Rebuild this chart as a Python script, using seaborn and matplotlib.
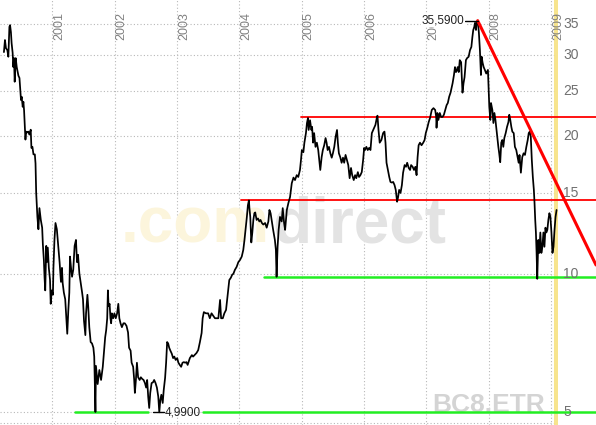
import matplotlib
matplotlib.use("Agg")
import numpy as np
import pandas as pd
import matplotlib.pyplot as plt
import matplotlib.transforms as mtransforms
import seaborn as sns

dates = [
    "2000-03-24", "2000-03-30", "2000-04-05", "2000-04-13", "2000-04-19", "2000-04-25", "2000-04-29",
    "2000-05-04", "2000-05-08", "2000-05-14", "2000-05-18", "2000-05-22", "2000-05-26", "2000-06-01",
    "2000-06-07", "2000-06-17", "2000-06-23", "2000-06-27", "2000-07-02", "2000-07-06", "2000-07-12",
    "2000-07-16", "2000-07-20", "2000-07-24", "2000-07-28", "2000-08-01", "2000-08-05", "2000-08-14",
    "2000-08-20", "2000-08-28", "2000-09-01", "2000-09-07", "2000-09-13", "2000-09-21", "2000-09-25",
    "2000-09-29", "2000-10-06", "2000-10-12", "2000-10-18", "2000-10-26", "2000-11-03", "2000-11-07",
    "2000-11-13", "2000-11-17", "2000-11-21", "2000-11-27", "2000-11-30", "2000-12-06", "2000-12-12",
    "2000-12-19", "2000-12-23", "2000-12-29",
    "2001-01-05", "2001-01-08", "2001-01-14", "2001-01-20", "2001-01-28", "2001-02-05", "2001-02-13",
    "2001-02-21", "2001-02-27", "2001-03-03", "2001-03-10", "2001-03-18", "2001-03-24", "2001-03-30",
    "2001-04-05", "2001-04-11", "2001-04-15", "2001-04-21", "2001-04-27", "2001-05-04", "2001-05-12",
    "2001-05-20", "2001-05-26", "2001-06-01", "2001-06-09", "2001-06-17", "2001-06-25", "2001-06-30",
    "2001-07-06", "2001-07-14", "2001-07-18", "2001-07-26", "2001-07-31", "2001-08-06", "2001-08-14",
    "2001-08-22", "2001-08-30", "2001-09-04", "2001-09-11", "2001-09-14", "2001-09-24", "2001-10-04",
    "2001-10-14", "2001-10-24", "2001-11-01", "2001-11-07", "2001-11-13", "2001-11-19", "2001-11-23",
    "2001-11-27", "2001-12-03", "2001-12-08", "2001-12-12", "2001-12-16", "2001-12-24", "2001-12-31",
    "2002-01-08", "2002-01-16", "2002-01-23", "2002-01-29", "2002-02-05", "2002-02-13", "2002-02-22",
    "2002-03-02", "2002-03-12", "2002-03-21", "2002-03-27", "2002-04-05", "2002-04-11", "2002-04-20",
    "2002-04-26", "2002-04-30", "2002-05-06", "2002-05-12", "2002-05-19", "2002-05-28", "2002-06-04",
    "2002-06-12", "2002-06-20", "2002-06-28", "2002-07-05", "2002-07-11", "2002-07-17", "2002-07-23",
    "2002-07-29", "2002-08-06", "2002-08-14", "2002-08-21", "2002-08-29", "2002-09-06", "2002-09-14",
    "2002-09-20", "2002-09-26", "2002-10-02", "2002-10-10", "2002-10-16", "2002-10-24", "2002-10-30",
    "2002-11-05", "2002-11-11", "2002-11-17", "2002-11-24", "2002-12-02", "2002-12-10", "2002-12-17",
    "2002-12-25",
    "2003-01-03", "2003-01-10", "2003-01-18", "2003-01-26", "2003-02-03", "2003-02-11", "2003-02-19",
    "2003-02-26", "2003-03-05", "2003-03-18", "2003-03-30", "2003-04-06", "2003-04-26", "2003-05-06",
    "2003-05-16", "2003-05-26", "2003-06-01", "2003-06-08", "2003-06-20", "2003-07-03", "2003-07-13",
    "2003-07-23", "2003-08-02", "2003-08-12", "2003-08-22", "2003-09-01", "2003-09-11", "2003-09-17",
    "2003-09-27", "2003-10-06", "2003-10-16", "2003-10-24", "2003-10-30", "2003-11-04", "2003-11-13",
    "2003-11-21", "2003-11-28", "2003-12-07", "2003-12-17", "2003-12-27",
    "2004-01-06", "2004-01-16", "2004-01-25", "2004-02-01", "2004-02-07", "2004-02-15", "2004-02-21",
    "2004-02-27", "2004-03-01", "2004-03-06", "2004-03-12", "2004-03-18", "2004-03-24", "2004-03-30",
    "2004-04-04", "2004-04-12", "2004-04-20", "2004-04-28", "2004-05-05", "2004-05-13", "2004-05-21",
    "2004-06-01", "2004-06-10", "2004-06-20", "2004-06-26", "2004-07-03", "2004-07-09", "2004-07-18",
    "2004-07-28", "2004-08-03", "2004-08-07", "2004-08-13", "2004-08-19", "2004-08-27", "2004-09-06",
    "2004-09-12", "2004-09-20", "2004-09-26", "2004-10-06", "2004-10-15", "2004-10-25", "2004-11-04",
    "2004-11-14", "2004-11-23", "2004-12-03", "2004-12-12", "2004-12-22", "2004-12-28",
    "2005-01-02", "2005-01-11", "2005-01-17", "2005-01-26", "2005-02-01", "2005-02-07", "2005-02-11",
    "2005-02-19", "2005-02-27", "2005-03-03", "2005-03-09", "2005-03-15", "2005-03-23", "2005-03-31",
    "2005-04-08", "2005-04-14", "2005-04-20", "2005-04-28", "2005-05-05", "2005-05-13", "2005-05-21",
    "2005-05-27", "2005-06-02", "2005-06-10", "2005-06-18", "2005-06-26", "2005-07-03", "2005-07-11",
    "2005-07-19", "2005-07-27", "2005-08-01", "2005-08-07", "2005-08-15", "2005-08-23", "2005-08-31",
    "2005-09-07", "2005-09-15", "2005-09-23", "2005-10-01", "2005-10-09", "2005-10-17", "2005-10-24",
    "2005-11-02", "2005-11-10", "2005-11-17", "2005-11-26", "2005-12-03", "2005-12-11", "2005-12-19",
    "2005-12-27",
    "2006-01-02", "2006-01-07", "2006-01-15", "2006-01-23", "2006-01-31", "2006-02-08", "2006-02-16",
    "2006-02-24", "2006-03-01", "2006-03-09", "2006-03-17", "2006-03-21", "2006-03-27", "2006-04-03",
    "2006-04-13", "2006-04-23", "2006-05-01", "2006-05-07", "2006-05-13", "2006-05-21", "2006-05-29",
    "2006-06-05", "2006-06-13", "2006-06-21", "2006-06-29", "2006-07-06", "2006-07-14", "2006-07-20",
    "2006-07-26", "2006-08-03", "2006-08-11", "2006-08-18", "2006-08-27", "2006-09-04", "2006-09-11",
    "2006-09-20", "2006-09-28", "2006-10-04", "2006-10-13", "2006-10-21", "2006-10-29", "2006-11-05",
    "2006-11-11", "2006-11-17", "2006-11-25", "2006-12-04", "2006-12-14", "2006-12-22", "2006-12-29",
    "2007-01-07", "2007-01-15", "2007-01-23", "2007-02-02", "2007-02-12", "2007-02-22", "2007-02-28",
    "2007-03-02", "2007-03-07", "2007-03-13", "2007-03-21", "2007-03-29", "2007-04-06", "2007-04-14",
    "2007-04-22", "2007-04-30", "2007-05-07", "2007-05-15", "2007-05-23", "2007-05-29", "2007-06-04",
    "2007-06-12", "2007-06-18", "2007-06-24", "2007-06-30", "2007-07-04", "2007-07-10", "2007-07-16",
    "2007-07-24", "2007-08-01", "2007-08-07", "2007-08-13", "2007-08-21", "2007-08-28", "2007-09-06",
    "2007-09-14", "2007-09-22", "2007-09-28", "2007-10-03", "2007-10-09", "2007-10-13", "2007-10-19",
    "2007-10-23", "2007-10-29", "2007-11-01", "2007-11-05", "2007-11-11", "2007-11-17", "2007-11-21",
    "2007-11-27", "2007-12-03", "2007-12-10", "2007-12-18", "2007-12-28",
    "2008-01-03", "2008-01-05", "2008-01-11", "2008-01-15", "2008-01-23", "2008-01-29", "2008-02-04",
    "2008-02-10", "2008-02-18", "2008-02-27", "2008-03-03", "2008-03-09", "2008-03-15", "2008-03-21",
    "2008-03-27", "2008-04-02", "2008-04-10", "2008-04-18", "2008-04-26", "2008-05-01", "2008-05-07",
    "2008-05-13", "2008-05-19", "2008-05-27", "2008-06-03", "2008-06-11", "2008-06-19", "2008-06-25",
    "2008-06-30", "2008-07-08", "2008-07-16", "2008-07-24", "2008-08-01", "2008-08-09", "2008-08-17",
    "2008-08-23", "2008-08-29", "2008-09-04", "2008-09-10", "2008-09-16", "2008-09-22", "2008-09-26",
    "2008-09-30", "2008-10-04", "2008-10-08", "2008-10-12", "2008-10-18", "2008-10-24", "2008-10-30",
    "2008-11-05", "2008-11-11", "2008-11-17", "2008-11-23", "2008-11-29", "2008-12-04", "2008-12-10",
    "2008-12-16", "2008-12-22", "2008-12-28",
    "2009-01-03", "2009-01-09", "2009-01-15", "2009-01-21", "2009-01-27", "2009-02-02",
]
prices = [
    30.4, 32.3, 31.0, 30.7, 29.7, 34.5, 34.8,
    33.6, 31.8, 30.3, 28.2, 29.5, 26.2, 29.5,
    28.2, 27.0, 26.7, 25.5, 23.9, 24.3, 23.1,
    23.7, 22.7, 21.1, 19.6, 20.4, 20.3, 20.4,
    20.1, 20.6, 18.8, 18.9, 18.2, 18.2, 17.4,
    15.0, 13.3, 12.5, 13.9, 13.1, 12.6, 11.6,
    10.7, 9.8, 9.2, 11.5, 10.6, 11.4, 10.3,
    9.7, 8.6, 9.2,
    9.0, 10.3, 11.85, 12.9, 12.5, 11.5, 10.6,
    9.6, 10.3, 9.55, 9.1, 8.8, 8.05, 7.4,
    8.3, 9.1, 10.9, 10.3, 9.85, 10.2, 11.5,
    11.85, 10.6, 11.0, 10.0, 9.55, 9.1, 8.8,
    7.9, 7.35, 8.2, 9.0, 8.45, 7.65, 7.1,
    7.05, 6.9, 6.6, 5.0, 6.3, 5.75, 6.17,
    5.87, 6.27, 6.82, 7.27, 7.54, 8.0, 9.2,
    8.5, 8.6, 8.0, 7.8, 8.2, 8.0, 8.2,
    8.0, 8.2, 8.6, 8.0, 7.8, 7.65, 7.8,
    7.8, 7.7, 7.45, 6.9, 6.8, 6.4, 6.27,
    5.87, 5.5, 5.87, 6.4, 5.95, 5.87, 5.95,
    5.9, 5.87, 5.78, 5.65, 5.87, 5.4, 5.1,
    5.5, 5.78, 5.8, 5.87, 5.78, 5.65, 5.4,
    4.99, 5.31, 5.45, 5.23, 5.58, 5.93, 6.4,
    7.1, 7.05, 6.9, 6.8, 6.7, 6.55, 6.6,
    6.49,
    6.55, 6.4, 6.33, 6.27, 6.4, 6.42, 6.4,
    6.42, 6.33, 6.55, 6.65, 6.6, 6.72, 6.82,
    7.1, 7.43, 8.0, 8.25, 8.2, 8.2, 8.0,
    8.2, 8.1, 8.0, 8.0, 8.0, 8.77, 8.0,
    8.0, 8.2, 8.34, 8.9, 9.35, 9.69, 9.8,
    9.95, 10.0, 10.2, 10.35, 10.6,
    10.72, 10.9, 11.27, 11.85, 12.46, 13.3, 14.1,
    14.45, 13.9, 13.3, 11.7, 12.3, 13.1, 13.55,
    13.6, 13.1, 13.2, 13.0, 13.1, 12.9, 12.8,
    12.9, 12.6, 13.0, 13.77, 13.55, 13.1, 12.46,
    11.85, 11.27, 9.85, 11.45, 12.46, 13.3, 13.0,
    13.9, 12.9, 12.46, 13.77, 14.25, 14.7, 15.75,
    16.2, 16.0, 16.4, 16.25, 16.83, 17.7,
    18.6, 18.4, 19.3, 20.25, 21.3, 21.85, 20.57,
    21.6, 20.57, 20.9, 19.3, 20.25, 18.9, 19.3,
    18.6, 17.7, 16.83, 17.95, 18.6, 19.05, 19.75,
    19.3, 18.6, 18.9, 18.3, 17.9, 18.3, 18.9,
    19.9, 20.57, 19.3, 18.3, 17.95, 17.45, 17.9,
    17.45, 18.15, 17.7, 17.25, 16.15, 17.0, 16.4,
    16.0, 16.4, 16.15, 16.65, 16.25, 16.4, 16.65,
    17.7,
    18.8, 18.6, 18.9, 18.6, 18.8, 18.6, 20.25,
    20.57, 20.8, 21.1, 21.85, 22.1, 20.57, 19.3,
    19.56, 20.25, 20.4, 19.3, 17.45, 16.83, 16.25,
    15.85, 15.8, 15.85, 15.6, 15.23, 14.35, 14.7,
    15.23, 15.0, 15.6, 16.6, 17.25, 17.1, 17.45,
    17.0, 16.83, 17.25, 17.1, 16.83, 17.1, 16.4,
    17.95, 19.05, 19.3, 19.05, 19.3, 19.56, 20.25,
    20.8, 21.4, 21.85, 22.74, 22.95, 22.74, 21.96,
    20.8, 22.4, 21.63, 22.4, 21.96, 21.96, 22.2,
    22.74, 23.3, 23.55, 24.3, 24.8, 25.4, 26.0,
    27.1, 28.2, 27.5, 27.8, 28.2, 27.5, 29.2,
    28.9, 24.8, 26.0, 26.8, 29.2, 29.5, 29.7,
    30.7, 31.2, 32.8, 33.96, 34.5, 35.2, 33.96,
    35.35, 35.59, 34.8, 33.5, 30.7, 27.1, 29.7,
    28.8, 28.2, 27.8, 27.3, 27.8,
    24.2, 23.1, 21.63, 23.55, 22.74, 21.3, 22.4,
    21.63, 20.25, 18.9, 18.3, 17.5, 19.3, 19.56,
    18.9, 19.75, 20.25, 20.9, 21.4, 22.2, 21.63,
    20.9, 20.4, 20.25, 18.9, 18.6, 17.95, 17.45,
    18.15, 16.6, 17.95, 18.3, 18.15, 18.9, 19.56,
    20.25, 20.4, 19.9, 17.7, 16.25, 15.23, 14.25,
    13.1, 12.3, 11.1, 9.75, 11.85, 11.1, 12.3,
    11.1, 11.45, 12.3, 11.45, 12.6, 12.3, 12.46,
    13.1, 13.55, 13.3,
    12.3, 11.1, 11.45, 12.46, 13.3, 13.77,
]

# Hilfslinien / Marken
y_ticks = [5, 10, 15, 20, 25, 30, 35]
years = list(range(2001, 2010))
trend_dates = ["2007-10-29", "2009-09-21"]
trend_prices = [35.59, 10.45]
resist_hi = (22.0, "2004-12-29")
resist_lo = (14.5, "2004-01-14")
support_hi = (9.85, "2004-05-26")
support_lo = (4.99, "2001-05-14")
peak = ("2007-10-29", 35.59)
low = ("2002-09-20", 4.99)

x_left, x_right = pd.Timestamp("2000-03-01"), pd.Timestamp("2009-09-21")
y_bot, y_top = 4.683, 39.48

sns.set_style("white")
plt.rcParams["font.family"] = ["Liberation Sans", "DejaVu Sans"]

df = pd.DataFrame({"date": pd.to_datetime(dates), "price": prices})

fig = plt.figure(figsize=(5.96, 4.25), dpi=100)
ax = fig.add_axes([0, 0, 1, 1])
ax.set_yscale("log")
ax.set_xlim(x_left, x_right)
ax.set_ylim(y_bot, y_top)
for s in ax.spines.values():
    s.set_visible(False)
ax.set_xticks([])
ax.set_yticks([])
ax.minorticks_off()

grid_kw = dict(color="#b8b8b8", lw=0.8, ls=(0, (1, 2)), zorder=0)
grid_end = pd.Timestamp("2009-01-17")
for v in y_ticks + [4.73]:
    ax.plot([x_left, grid_end], [v, v], **grid_kw)
for yr in years:
    ax.axvline(pd.Timestamp(f"{yr}-01-01"), **grid_kw)

# gelber Balken (aktueller Rand)
ax.axvspan(pd.Timestamp("2009-01-19"), pd.Timestamp("2009-02-10"), color="#f6e07a", alpha=0.85, lw=0, zorder=0.5)

# Wasserzeichen
ax.text(0.452, 0.43, ".com", transform=ax.transAxes, ha="right", va="baseline",
        fontsize=46, fontweight="bold", color="#fcf5dc", zorder=0.6)
ax.text(0.457, 0.43, "direct", transform=ax.transAxes, ha="left", va="baseline",
        fontsize=46, fontweight="bold", color="#e3e3e3", zorder=0.6)
ax.text(0.915, 0.031, "BC8.ETR", transform=ax.transAxes, ha="right", va="baseline",
        fontsize=19, fontweight="bold", color="#d4d4d4", zorder=0.6)

sns.lineplot(data=df, x="date", y="price", ax=ax, color="black", lw=1.25, zorder=3)
ax.set_xlabel("")
ax.set_ylabel("")

# Widerstands- / Unterstuetzungslinien
ax.plot([pd.Timestamp(resist_hi[1]), x_right], [resist_hi[0]] * 2, color="#ff0000", lw=1.3, zorder=2)
ax.plot([pd.Timestamp(resist_lo[1]), x_right], [resist_lo[0]] * 2, color="#ff0000", lw=1.3, zorder=2)
ax.plot([pd.Timestamp(support_hi[1]), x_right], [support_hi[0]] * 2, color="#22ee22", lw=1.8, zorder=2)
ax.plot([pd.Timestamp(support_lo[1]), pd.Timestamp("2002-07-15")], [support_lo[0]] * 2, color="#22ee22", lw=1.8, zorder=2)
ax.plot([pd.Timestamp("2003-06-03"), x_right], [support_lo[0]] * 2, color="#22ee22", lw=1.8, zorder=2)
ax.plot(pd.to_datetime(trend_dates), trend_prices, color="#ff0000", lw=2.2, zorder=4)

# Achsenbeschriftungen
lab_trans = mtransforms.blended_transform_factory(ax.transAxes, ax.transData)
for v in y_ticks:
    ax.text(563 / 596, v, str(v), transform=lab_trans, ha="left", va="center",
            fontsize=10, color="#707070", zorder=5)
yr_trans = mtransforms.blended_transform_factory(ax.transData, ax.transAxes)
for yr in years:
    ax.text(pd.Timestamp(f"{yr}-01-07"), 1 - 12 / 425, str(yr), transform=yr_trans,
            rotation=90, ha="left", va="top", fontsize=9, color="#808080", zorder=5)

# Hoch / Tief
ax.plot([pd.Timestamp("2007-08-14"), pd.Timestamp(peak[0])], [peak[1]] * 2, color="black", lw=1, zorder=6)
ax.text(pd.Timestamp("2007-08-12"), peak[1], "35,5900", ha="right", va="center", fontsize=8.5,
        color="#222222", zorder=6, bbox=dict(facecolor="white", edgecolor="none", pad=0.3))
ax.plot([pd.Timestamp("2002-08-14"), pd.Timestamp("2002-10-17")], [low[1]] * 2, color="black", lw=1, zorder=6)
ax.text(pd.Timestamp("2002-10-21"), low[1], "4,9900", ha="left", va="center", fontsize=8.5,
        color="#222222", zorder=6)

fig.savefig("out.png", dpi=100)
